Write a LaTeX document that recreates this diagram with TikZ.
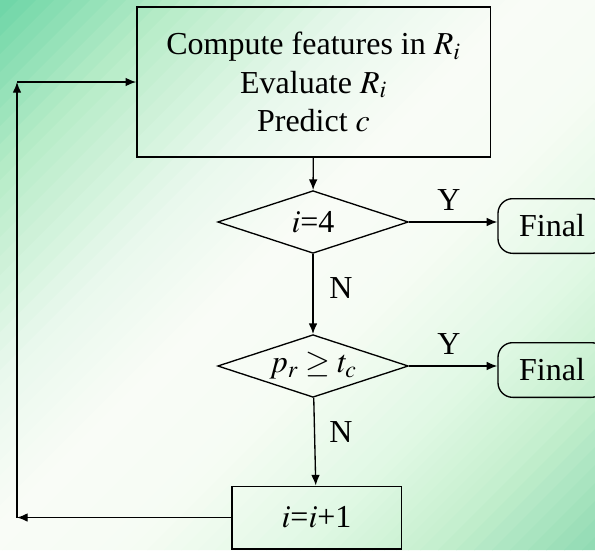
\documentclass[tikz,border=0pt]{standalone}
\usepackage{mathptmx}
\usepackage{fontspec}
\setmainfont{Liberation Serif}
\usetikzlibrary{shapes.geometric,arrows.meta}
\definecolor{bg0}{HTML}{6CD5A6}
\definecolor{bg1}{HTML}{B8ECC8}
\definecolor{bg2}{HTML}{E8F8EC}
\definecolor{bg3}{HTML}{F9FCF7}
\definecolor{bg4}{HTML}{F6FCF4}
\definecolor{bg5}{HTML}{E0F8E4}
\definecolor{bg6}{HTML}{C8F0D0}
\definecolor{bg7}{HTML}{8FDAB2}
\tikzset{
  flowbox/.style={draw, line width=1pt, align=center, inner sep=0pt},
  decision/.style={draw, diamond, aspect=3, line width=1pt, inner sep=0pt,
    minimum width=143pt, minimum height=47pt},
  final/.style={draw, rounded corners=11pt, line width=1pt, inner sep=0pt,
    minimum width=81pt, minimum height=41pt},
  answer/.style={inner sep=0pt}
}
\begin{document}
\begin{tikzpicture}[x=0.75pt,y=-0.75pt,line width=1pt,>={Latex[length=8pt,width=6.5pt]},
    every node/.style={font=\fontsize{24}{29}\selectfont}]
  \useasboundingbox (0,0) rectangle (595,550);
  \begin{scope}
    \clip (0,0) rectangle (595,550);
    \foreach \ca/\cb/\cola/\colb in {0/180/bg0/bg1, 180/370/bg1/bg2, 370/520/bg2/bg3,
        520/680/bg3/bg4, 680/850/bg4/bg5, 850/970/bg5/bg6, 970/1150/bg6/bg7}
      \foreach \k in {0,...,9}{
        \pgfmathsetmacro\lo{\ca+(\cb-\ca)*\k/10}
        \pgfmathsetmacro\hi{\ca+(\cb-\ca)*(\k+1)/10+1}
        \pgfmathtruncatemacro\pct{\k*10+5}
        \fill[\colb!\pct!\cola] (\lo,0) -- (\hi,0) -- (\hi-550,550) -- (\lo-550,550) -- cycle;
      }
  \end{scope}
  \node[flowbox, minimum width=265pt, minimum height=112.5pt] (comp) at (313.5,82)
    {Compute features in $R_i$\\Evaluate $R_i$\\Predict $c$};
  \node[decision] (last) at (313,222) {$i$=4};
  \node[decision] (conf) at (313,366) {$p_r\geq t_c$};
  \node[final] (fin1) at (552,226) {Final};
  \node[final] (fin2) at (552,370) {Final};
  \node[flowbox, minimum width=127pt, minimum height=47pt] (incr) at (316.5,517.5) {$i$=$i$+1};
  \node[answer] (yes1) at (449,200) {Y};
  \node[answer] (no1) at (341,288) {N};
  \node[answer] (yes2) at (449,344) {Y};
  \node[answer] (no2) at (341,432) {N};
  \coordinate (back1) at (17,517.5);
  \coordinate (back2) at (17,82);
  \draw[->] (comp) -- (last);
  \draw[->] (last.east) -- (last.east -| fin1.west);
  \draw[->] (last) -- (conf);
  \draw[->] (conf.east) -- (conf.east -| fin2.west);
  \draw[->] (conf) -- (incr);
  \draw[->] (incr.west) -- (back1);
  \draw[->] (back1) -- (back2);
  \draw[->] (back2) -- (comp.west);
\end{tikzpicture}
\end{document}
